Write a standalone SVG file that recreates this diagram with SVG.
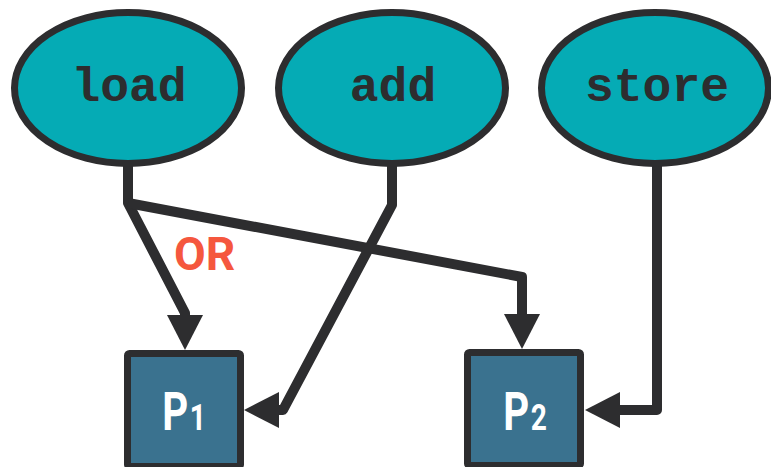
<svg xmlns="http://www.w3.org/2000/svg" width="771" height="467" viewBox="0 0 771 467">
<style>
.op ellipse{fill:#05abb5;stroke:#2d2d2f;stroke-width:7}
.op text{font-family:"Liberation Mono","Courier New",monospace;font-weight:bold;font-size:48px;fill:#2d2d2f;text-anchor:middle}
.pr rect{fill:#3a728f;stroke:#2d2d2f;stroke-width:7}
.pr text{font-family:Roboto,"Liberation Sans",sans-serif;font-weight:bold;font-size:53px;fill:#ffffff;text-anchor:middle}
.pr tspan{font-size:37px}
#edges path{fill:none;stroke:#2d2d2f;stroke-width:10;stroke-linejoin:round;marker-end:url(#ah)}
.lbl{font-family:Roboto,"Liberation Sans",sans-serif;font-weight:bold;font-size:46px;fill:#f5573e}
</style>
<defs>
<marker id="ah" markerUnits="userSpaceOnUse" markerWidth="40" markerHeight="40" refX="0" refY="18" orient="auto" viewBox="0 0 40 40">
<path d="M0,0 L35,18 L0,36 z" fill="#2d2d2f"/>
</marker>
</defs>
<g id="edges">
<path d="M128,165 V203 L185,313 V315"/>
<path d="M128,203 L522,277 V314"/>
<path d="M392,165 V205 L283,410 H279"/>
<path d="M657,165 V410 H620"/>
</g>
<text class="lbl" x="174" y="270">OR</text>
<g id="load" class="op">
<ellipse cx="128" cy="88" rx="113.5" ry="75.5"/>
<text x="129" y="101">load</text>
</g>
<g id="add" class="op">
<ellipse cx="392" cy="88" rx="113.5" ry="75.5"/>
<text x="393" y="101">add</text>
</g>
<g id="store" class="op">
<ellipse cx="655" cy="88" rx="113.5" ry="75.5"/>
<text x="657" y="101">store</text>
</g>
<g id="P1" class="pr">
<rect x="127.5" y="353.5" width="113" height="113" rx="2"/>
<text transform="translate(184,430) scale(0.76,1)" x="0" y="0">P<tspan dx="2">1</tspan></text>
</g>
<g id="P2" class="pr">
<rect x="467.5" y="352.5" width="113" height="113" rx="2"/>
<text transform="translate(525,430) scale(0.76,1)" x="0" y="0">P<tspan dx="2">2</tspan></text>
</g>
</svg>
